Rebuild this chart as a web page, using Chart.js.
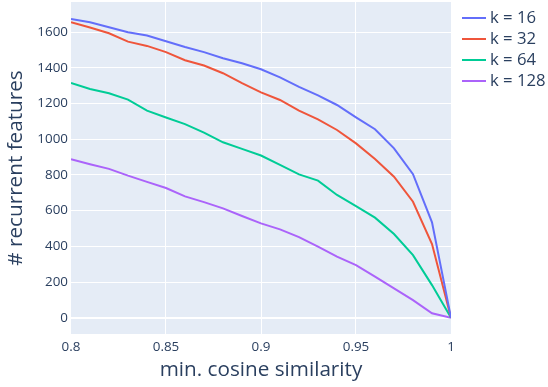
<!DOCTYPE html>
<html>
<head>
<meta charset="utf-8">
<script src="https://cdn.jsdelivr.net/npm/chart.js@4/dist/chart.umd.min.js"></script>
<style>
  html, body { margin: 0; padding: 0; background: #fff; }
  #wrap { width: 548px; height: 387px; position: relative; }
</style>
</head>
<body>
<div id="wrap"><canvas id="c" width="548" height="387"></canvas></div>
<script>
const xValues = [0.80, 0.81, 0.82, 0.83, 0.84, 0.85, 0.86, 0.87, 0.88, 0.89, 0.90,
                 0.91, 0.92, 0.93, 0.94, 0.95, 0.96, 0.97, 0.98, 0.99, 1.00];
const k16  = [1674, 1656, 1628, 1600, 1581, 1549, 1517, 1488, 1454, 1426, 1392,
              1347, 1293, 1246, 1192, 1123, 1056, 949, 804, 535, 0];
const k32  = [1656, 1626, 1594, 1547, 1523, 1488, 1443, 1413, 1370, 1314, 1263,
              1220, 1160, 1112, 1052, 977, 890, 790, 650, 413, 0];
const k64  = [1315, 1282, 1258, 1222, 1160, 1122, 1085, 1037, 983, 946, 909,
              856, 803, 768, 688, 626, 561, 469, 351, 183, 0];
const k128 = [888, 860, 834, 796, 761, 727, 680, 648, 613, 570, 529,
              495, 452, 398, 342, 295, 230, 165, 99, 25, 0];
const seriesLabels = ["k = 16", "k = 32", "k = 64", "k = 128"];
const xTicks = [0.8, 0.85, 0.9, 0.95, 1];
const yTicks = [0, 200, 400, 600, 800, 1000, 1200, 1400, 1600];
const xTickLabels = ["0.8", "0.85", "0.9", "0.95", "1"];

const colors = ["#636efa", "#EF553B", "#00cc96", "#ab63fa"];
const FONT = "'Open Sans', 'DejaVu Sans', sans-serif";
const TXT = "#2a3f5f";

const seriesData = [k16, k32, k64, k128];
const datasets = seriesData.map((arr, i) => ({
  label: seriesLabels[i],
  data: arr.map((v, j) => ({ x: xValues[j], y: v })),
  borderColor: colors[i],
  backgroundColor: colors[i],
  borderWidth: 2,
  pointRadius: 0,
  tension: 0,
  fill: false
}));

const bgPlugin = {
  id: 'plotBg',
  beforeDraw(chart) {
    const { ctx, chartArea: a } = chart;
    ctx.save();
    ctx.fillStyle = '#E5ECF6';
    ctx.fillRect(a.left, a.top, a.right - a.left, a.bottom - a.top);
    ctx.restore();
  }
};

const legendPlugin = {
  id: 'sideLegend',
  afterDraw(chart) {
    const { ctx } = chart;
    const x0 = 462, lineLen = 24, y0 = 18, step = 21;
    ctx.save();
    ctx.font = "16.7px " + FONT;
    ctx.textBaseline = 'middle';
    chart.data.datasets.forEach((ds, i) => {
      const y = y0 + i * step;
      ctx.strokeStyle = ds.borderColor;
      ctx.lineWidth = 2;
      ctx.beginPath();
      ctx.moveTo(x0, y);
      ctx.lineTo(x0 + lineLen, y);
      ctx.stroke();
      ctx.fillStyle = TXT;
      ctx.fillText(ds.label, x0 + lineLen + 4, y + 0.5);
    });
    ctx.restore();
  }
};

new Chart(document.getElementById('c'), {
  type: 'line',
  data: { datasets },
  plugins: [bgPlugin, legendPlugin],
  options: {
    responsive: false,
    animation: false,
    devicePixelRatio: 1,
    layout: { padding: { top: 2, right: 97, bottom: 0, left: 0 } },
    plugins: { legend: { display: false }, tooltip: { enabled: false } },
    scales: {
      x: {
        type: 'linear',
        min: 0.8,
        max: 1.0,
        afterBuildTicks(scale) { scale.ticks = xTicks.map(v => ({ value: v })); },
        afterFit(scale) { scale.height = 53; scale.paddingLeft = 0; scale.paddingRight = 0; },
        border: { display: false },
        grid: {
          color: ctx => (ctx.tick && (ctx.tick.value === 0.8 || ctx.tick.value === 1)) ? 'rgba(0,0,0,0)' : '#ffffff',
          lineWidth: 1,
          drawTicks: false
        },
        ticks: {
          padding: 5,
          maxRotation: 0,
          autoSkip: false,
          color: TXT,
          font: { family: FONT, size: 13.4 },
          callback: (v) => { const i = xTicks.indexOf(v); return i >= 0 ? xTickLabels[i] : ''; }
        },
        title: {
          display: true,
          text: 'min. cosine similarity',
          color: TXT,
          font: { family: FONT, size: 20.7 },
          padding: { top: 0, bottom: 4.5 }
        }
      },
      y: {
        type: 'linear',
        min: -91,
        max: 1769,
        afterBuildTicks(scale) { scale.ticks = yTicks.map(v => ({ value: v })); },
        afterFit(scale) { scale.width = 71; scale.paddingTop = 0; scale.paddingBottom = 0; },
        border: { display: false },
        grid: {
          color: '#ffffff',
          lineWidth: ctx => (ctx.tick && ctx.tick.value === 0) ? 2 : 1,
          drawTicks: false
        },
        ticks: {
          padding: 3,
          autoSkip: false,
          color: TXT,
          font: { family: FONT, size: 13.4 },
          callback: v => String(v)
        },
        title: {
          display: true,
          text: '# recurrent features',
          color: TXT,
          font: { family: FONT, size: 20.7 },
          padding: { top: 4, bottom: 0 }
        }
      }
    }
  }
});
</script>
</body>
</html>
